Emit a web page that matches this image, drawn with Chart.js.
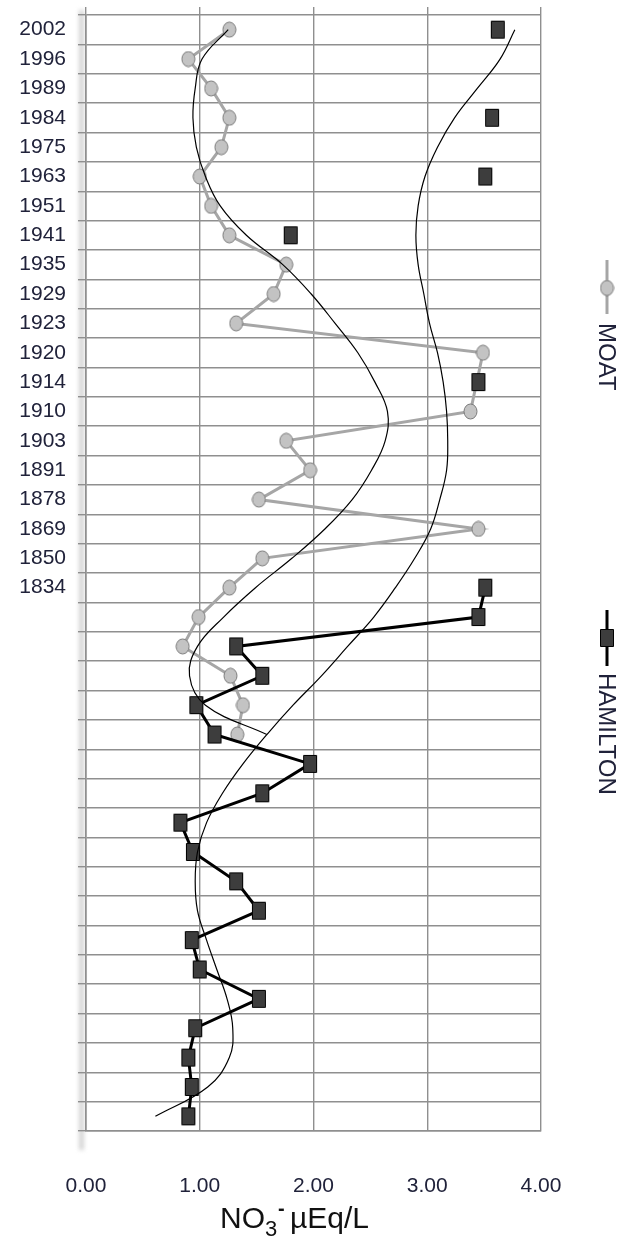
<!DOCTYPE html>
<html>
<head>
<meta charset="utf-8">
<script src="https://cdn.jsdelivr.net/npm/chart.js@4.4.1/dist/chart.umd.min.js"></script>
<style>
  html, body { margin: 0; padding: 0; background: #fff; }
  #wrap { position: relative; width: 625px; height: 1237px; }
</style>
</head>
<body>
<div id="wrap"><canvas id="nitrateChart"></canvas></div>
<script>
// core rows, top to bottom; the deeper Hamilton rows carry no year label
const yearLabels = ['2002', '1996', '1989', '1984', '1975', '1963', '1951', '1941', '1935', '1929',
  '1923', '1920', '1914', '1910', '1903', '1891', '1878', '1869', '1850', '1834',
  '', '', '', '', '', '', '', '', '', '', '', '', '', '', '', '', '', ''];

const xTicks = [0, 1, 2, 3, 4];

// NO3- (µEq/L)
const moatValues = [1.26, 0.90, 1.10, 1.26, 1.19, 1.00, 1.10, 1.26, 1.76, 1.65,
  1.32, 3.49, null, 3.38, 1.76, 1.97, 1.52, 3.45, 1.55, 1.26,
  0.99, 0.85, 1.27, 1.38, 1.33, null, null, null, null, null,
  null, null, null, null, null, null, null, null];

const hamiltonValues = [3.62, null, null, 3.57, null, 3.51, null, 1.80, null, null,
  null, null, 3.45, null, null, null, null, null, null, 3.51,
  3.45, 1.32, 1.55, 0.97, 1.13, 1.97, 1.55, 0.83, 0.94, 1.32,
  1.52, 0.93, 1.00, 1.52, 0.96, 0.90, 0.93, 0.90];

// polynomial trend curves, one value per row
const moatTrend = [1.25, 1.02, 0.96, 0.94, 0.97, 1.05, 1.18, 1.41, 1.73, 1.98,
  2.19, 2.39, 2.54, 2.65, 2.63, 2.51, 2.34, 2.10, 1.81, 1.49,
  1.21, 0.98, 0.91, 1.05, 1.59, null, null, null, null, null,
  null, null, null, null, null, null, null, null];

const hamiltonTrend = [3.77, 3.64, 3.44, 3.24, 3.09, 2.98, 2.92, 2.90, 2.92, 2.97,
  3.02, 3.09, 3.14, 3.17, 3.18, 3.17, 3.11, 3.03, 2.89, 2.72,
  2.53, 2.30, 2.07, 1.82, 1.59, 1.38, 1.20, 1.06, 0.98, 0.96,
  0.98, 1.06, 1.15, 1.24, 1.29, 1.26, 1.07, 0.61];

const GRID = '#8f8f8f';
const TICK_TEXT = '#20223a';
const SANS = "'Liberation Sans', Arial, sans-serif";
const tickFont = { family: SANS, size: 21 };

function makeMarker(w, h, shape, fill, stroke) {
  const c = document.createElement('canvas');
  c.width = w + 2;
  c.height = h + 2;
  const g = c.getContext('2d');
  g.fillStyle = fill;
  g.strokeStyle = stroke;
  g.lineWidth = 1;
  g.beginPath();
  if (shape === 'ellipse') {
    g.ellipse(c.width / 2, c.height / 2, w / 2, h / 2, 0, 0, Math.PI * 2);
  } else {
    g.rect(1.5, 1.5, w - 1, h - 1);
  }
  g.fill();
  g.stroke();
  return c;
}

const moatMarker = makeMarker(13, 15, 'ellipse', '#c3c3c3', '#7a7a7a');
const hamMarker = makeMarker(14, 18, 'rect', '#3d3d3d', '#000');

// keep the plot box fixed, no extra room for half labels
function noScalePadding(scale) {
  scale.paddingTop = 0;
  scale.paddingBottom = 0;
  scale.paddingLeft = 0;
  scale.paddingRight = 0;
}

// legend on the right, rotated, plus the x axis title with sub/superscript
const sideNotes = {
  id: 'sideNotes',
  beforeDraw(chart) {
    const ctx = chart.ctx;
    ctx.save();
    ctx.filter = 'blur(2px)';
    ctx.fillStyle = 'rgba(160,160,160,0.45)';
    ctx.fillRect(79, 10, 5, 1140);
    ctx.restore();
  },
  afterDraw(chart) {
    const ctx = chart.ctx;
    const entry = (x, y0, y1, yMark, color, marker, text, yText) => {
      ctx.save();
      ctx.strokeStyle = color;
      ctx.lineWidth = 3;
      ctx.beginPath();
      ctx.moveTo(x, y0);
      ctx.lineTo(x, y1);
      ctx.stroke();
      ctx.drawImage(marker, x - marker.width / 2, yMark - marker.height / 2);
      ctx.translate(x - 1, yText);
      ctx.rotate(Math.PI / 2);
      ctx.fillStyle = TICK_TEXT;
      ctx.font = '24px ' + SANS;
      ctx.textAlign = 'left';
      ctx.textBaseline = 'middle';
      ctx.fillText(text, 0, 0);
      ctx.restore();
    };
    entry(607, 260, 314, 288, '#a6a6a6', moatMarker, 'MOAT', 323);
    entry(607, 610, 666, 638, '#000', hamMarker, 'HAMILTON', 673);

    // NO3- µEq/L
    ctx.save();
    ctx.fillStyle = '#111';
    ctx.textBaseline = 'alphabetic';
    ctx.textAlign = 'left';
    const base = 1228;
    ctx.font = '30px ' + SANS;
    ctx.fillText('NO', 220, base);
    const afterNO = 220 + ctx.measureText('NO').width;
    ctx.font = '22px ' + SANS;
    ctx.fillText('3', afterNO, base + 8);
    ctx.font = 'bold 20px ' + SANS;
    ctx.fillText('-', afterNO + 13, base - 13);
    ctx.font = '30px ' + SANS;
    ctx.fillText('µEq/L', afterNO + 25, base);
    ctx.restore();
  }
};

new Chart(document.getElementById('nitrateChart'), {
  type: 'line',
  data: {
    labels: yearLabels,
    datasets: [
      {
        label: 'MOAT trend',
        data: moatTrend,
        borderColor: '#000',
        borderWidth: 1.2,
        pointRadius: 0,
        tension: 0.4,
        fill: false
      },
      {
        label: 'HAMILTON trend',
        data: hamiltonTrend,
        borderColor: '#000',
        borderWidth: 1.2,
        pointRadius: 0,
        tension: 0.4,
        fill: false
      },
      {
        label: 'HAMILTON',
        data: hamiltonValues,
        borderColor: '#000',
        borderWidth: 3,
        pointStyle: hamMarker,
        pointRadius: 8,
        tension: 0,
        spanGaps: false,
        fill: false
      },
      {
        label: 'MOAT',
        data: moatValues,
        borderColor: '#a6a6a6',
        borderWidth: 3,
        pointStyle: moatMarker,
        pointRadius: 8,
        tension: 0,
        spanGaps: true,
        fill: false
      }
    ]
  },
  options: {
    indexAxis: 'y',
    responsive: true,
    maintainAspectRatio: false,
    animation: false,
    layout: { padding: { left: 0, right: 84, top: 0, bottom: 0 } },
    plugins: {
      legend: { display: false },
      tooltip: { enabled: false }
    },
    scales: {
      y: {
        type: 'category',
        offset: true,
        grid: { offset: true, color: GRID, lineWidth: 1.4, tickLength: 8 },
        border: { color: GRID, width: 1.6 },
        ticks: { autoSkip: false, padding: 12, color: TICK_TEXT, font: tickFont },
        afterFit(scale) { scale.width = 86; noScalePadding(scale); }
      },
      x: {
        type: 'linear',
        position: 'bottom',
        min: 0,
        max: 4,
        afterBuildTicks(scale) { scale.ticks = xTicks.map(v => ({ value: v })); },
        grid: { color: GRID, lineWidth: 1.4, drawTicks: false },
        border: { color: GRID, width: 1.4 },
        ticks: {
          padding: 43,
          color: TICK_TEXT,
          font: tickFont,
          callback: v => Number(v).toFixed(2)
        },
        afterFit(scale) { scale.height = 106; noScalePadding(scale); }
      },
      xTop: {
        type: 'linear',
        position: 'top',
        min: 0,
        max: 4,
        afterBuildTicks(scale) { scale.ticks = xTicks.map(v => ({ value: v })); },
        grid: { color: GRID, lineWidth: 1.4, drawOnChartArea: false, tickLength: 8 },
        border: { display: false },
        ticks: { display: false },
        afterFit(scale) { scale.height = 15; noScalePadding(scale); }
      }
    }
  },
  plugins: [sideNotes]
});
</script>
</body>
</html>
